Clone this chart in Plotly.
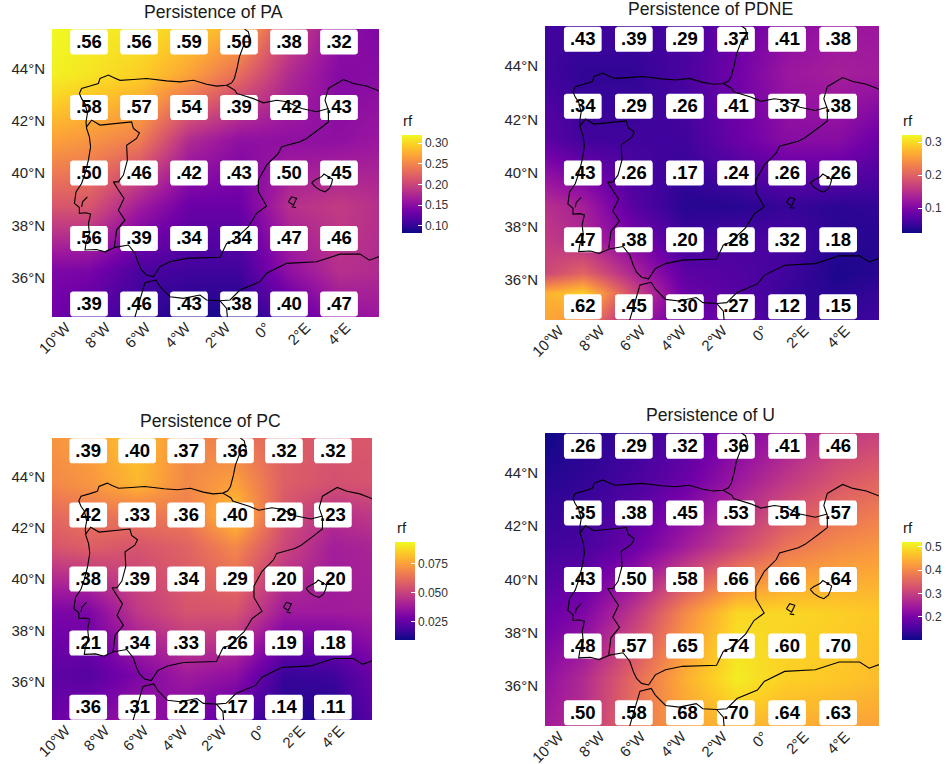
import math
import plotly.graph_objects as go

W, H = 949, 764
TITLES = ["Persistence of PA", "Persistence of PDNE", "Persistence of PC", "Persistence of U"]
LON_RANGE = [-10.6, 5.75]
LAT_RANGE = [34.5, 45.5]
LON_TICKS = [-10, -8, -6, -4, -2, 0, 2, 4]
LON_TEXT = ["10°W", "8°W", "6°W", "4°W", "2°W", "0°", "2°E", "4°E"]
LAT_TICKS = [36, 38, 40, 42, 44]
LAT_TEXT = ["36°N", "38°N", "40°N", "42°N", "44°N"]

# field sample nodes
NODE_LON = [-10.6, -8.75, -6.25, -3.75, -1.25, 1.25, 3.75, 5.75]
NODE_LAT = [34.5, 36.25, 38.75, 41.25, 43.75, 45.5]
NODE_LAT_PDNE = [34.5, 35.5, 36.25, 37.5, 38.75, 41.25, 43.75, 45.5]
NODE_LAT_PC = [34.5, 36.25, 38.75, 41.25, 42.5, 43.75, 45.5]

Z_PA = [
    [.134, .118, .101, .089, .087, .118, .153, .161],
    [.142, .139, .111, .106, .106, .153, .182, .177],
    [.213, .213, .165, .130, .130, .182, .191, .182],
    [.268, .260, .244, .177, .153, .153, .153, .161],
    [.315, .308, .296, .268, .230, .177, .146, .149],
    [.320, .315, .308, .295, .277, .201, .153, .142],
]
Z_PDNE = [
    [.263, .239, .129, .084, .084, .046, .046, .055],
    [.269, .292, .174, .084, .070, .049, .040, .049],
    [.174, .203, .138, .075, .067, .055, .034, .040],
    [.162, .144, .099, .055, .061, .061, .040, .040],
    [.150, .132, .070, .040, .040, .049, .043, .046],
    [.075, .055, .055, .055, .084, .108, .108, .084],
    [.055, .046, .046, .061, .090, .123, .132, .129],
    [.055, .055, .055, .061, .084, .108, .123, .123],
]
Z_PC = [
    [.026, .030, .037, .030, .022, .013, .012, .022],
    [.024, .022, .030, .038, .034, .016, .017, .026],
    [.030, .030, .047, .055, .055, .038, .038, .039],
    [.055, .058, .055, .059, .069, .051, .039, .041],
    [.061, .064, .064, .066, .083, .055, .044, .047],
    [.069, .072, .080, .069, .075, .058, .054, .055],
    [.072, .075, .083, .069, .066, .058, .056, .056],
]
Z_U = [
    [.247, .276, .373, .428, .457, .444, .436, .428],
    [.226, .268, .360, .444, .507, .478, .470, .457],
    [.184, .205, .289, .402, .486, .486, .478, .470],
    [.142, .150, .184, .247, .310, .373, .402, .415],
    [.121, .129, .150, .184, .239, .289, .331, .352],
    [.100, .121, .134, .163, .205, .247, .289, .302],
]
Z_ALL = [Z_PA, Z_PDNE, Z_PC, Z_U]
LATS_ALL = [NODE_LAT, NODE_LAT_PDNE, NODE_LAT_PC, NODE_LAT]
Z_RANGE = [(.082, .320), (.025, .322), (.009, .0934), (.10, .52)]
CB_TICKS = [[.10, .15, .20, .25, .30], [.1, .2, .3], [.025, .05, .075], [.2, .3, .4, .5]]
CB_TEXT = [["0.10", "0.15", "0.20", "0.25", "0.30"], ["0.1", "0.2", "0.3"],
           ["0.025", "0.050", "0.075"], ["0.2", "0.3", "0.4", "0.5"]]

# persistence labels
LABEL_LON = [-8.75, -6.25, -3.75, -1.25, 1.25, 3.75]
LABEL_LAT = [45, 42.5, 40, 37.5, 35]
LABELS_PA = [[".56", ".56", ".59", ".50", ".38", ".32"],
             [".58", ".57", ".54", ".39", ".42", ".43"],
             [".50", ".46", ".42", ".43", ".50", ".45"],
             [".56", ".39", ".34", ".34", ".47", ".46"],
             [".39", ".46", ".43", ".38", ".40", ".47"]]
LABELS_PDNE = [[".43", ".39", ".29", ".37", ".41", ".38"],
               [".34", ".29", ".26", ".41", ".37", ".38"],
               [".43", ".26", ".17", ".24", ".26", ".26"],
               [".47", ".38", ".20", ".28", ".32", ".18"],
               [".62", ".45", ".30", ".27", ".12", ".15"]]
LABELS_PC = [[".39", ".40", ".37", ".36", ".32", ".32"],
             [".42", ".33", ".36", ".40", ".29", ".23"],
             [".38", ".39", ".34", ".29", ".20", ".20"],
             [".21", ".34", ".33", ".26", ".19", ".18"],
             [".36", ".31", ".22", ".17", ".14", ".11"]]
LABELS_U = [[".26", ".29", ".32", ".36", ".41", ".46"],
            [".35", ".38", ".45", ".53", ".54", ".57"],
            [".43", ".50", ".58", ".66", ".66", ".64"],
            [".48", ".57", ".65", ".74", ".60", ".70"],
            [".50", ".58", ".68", ".70", ".64", ".63"]]
LABELS_ALL = [LABELS_PA, LABELS_PDNE, LABELS_PC, LABELS_U]

# coast and border lines, lon/lat
COAST_MAIN = [(-0.95, 45.6), (-0.95, 45.48), (-0.78, 45.39), (-0.67, 45.01), (-0.95, 45.01), (-1.12, 44.69),
              (-1.23, 44.44), (-1.33, 44.05), (-1.48, 43.61), (-1.62, 43.44), (-1.87, 43.35), (-2.37, 43.32),
              (-2.87, 43.39), (-3.53, 43.54), (-4.2, 43.48), (-4.87, 43.52), (-5.87, 43.61), (-6.53, 43.57),
              (-7.2, 43.54), (-7.53, 43.65), (-7.78, 43.74), (-8.2, 43.61), (-8.28, 43.42), (-8.7, 43.32),
              (-9.12, 43.23), (-9.23, 43.04), (-9.12, 42.84), (-8.95, 42.65), (-8.83, 42.27), (-8.9, 41.95),
              (-8.87, 41.7), (-8.73, 41.38), (-8.67, 41.0), (-8.78, 40.49), (-8.95, 39.98), (-9.12, 39.6),
              (-9.4, 39.28), (-9.48, 38.84), (-9.23, 38.68), (-9.23, 38.46), (-8.9, 38.48), (-8.67, 38.43),
              (-8.78, 38.07), (-8.73, 37.69), (-8.9, 37.31), (-8.95, 37.06), (-8.37, 37.08), (-7.95, 36.99),
              (-7.45, 37.16), (-6.78, 37.25), (-6.45, 36.93), (-6.28, 36.55), (-6.12, 36.29), (-5.87, 36.1),
              (-5.53, 36.04), (-5.2, 36.42), (-4.7, 36.61), (-3.87, 36.74), (-2.87, 36.78), (-2.2, 36.78),
              (-1.87, 37.31), (-1.53, 37.41), (-0.78, 37.95), (-0.37, 38.46), (0.13, 38.74), (-0.03, 38.96),
              (-0.28, 39.28), (-0.28, 39.73), (0.13, 40.3), (0.72, 40.75), (0.88, 41.0), (1.8, 41.19),
              (2.13, 41.32), (2.8, 41.7), (3.22, 41.95), (3.22, 42.4), (3.05, 42.78), (3.22, 43.23),
              (3.97, 43.57), (4.47, 43.42), (5.13, 43.32), (5.73, 43.14), (5.97, 43.06)]
BORDER_PYRENEES = [(-1.87, 43.35), (-1.45, 43.16), (-1.37, 43.04), (-0.53, 42.84), (-0.03, 42.68), (0.63, 42.78),
                   (1.13, 42.72), (1.88, 42.46), (2.63, 42.34), (3.22, 42.46)]
BORDER_PORTUGAL = [(-8.87, 41.76), (-8.62, 42.02), (-8.2, 41.83), (-7.37, 41.89), (-6.62, 41.95), (-6.53, 41.7),
                   (-6.23, 41.53), (-6.37, 41.32), (-6.87, 41.06), (-6.83, 40.49), (-6.95, 40.11), (-7.03, 39.92),
                   (-7.28, 39.66), (-7.53, 39.66), (-7.28, 39.35), (-7.0, 39.03), (-7.28, 38.58), (-6.95, 38.2),
                   (-7.37, 37.82), (-7.48, 37.18)]
COAST_AFRICA = [(-6.5, 34.38), (-5.95, 35.81), (-5.4, 35.91), (-5.2, 35.66), (-4.7, 35.27), (-4.03, 35.21),
                (-3.2, 35.34), (-2.87, 35.15), (-2.2, 35.12), (-1.7, 35.15), (-1.2, 35.53), (-0.2, 35.85),
                (0.13, 36.17), (1.13, 36.55), (2.63, 36.61), (3.8, 36.9), (4.8, 36.9), (5.27, 36.67), (5.97, 36.87)]
COAST_MELILLA = [(-2.2, 35.12), (-1.87, 34.83), (-1.82, 34.38)]
COAST_MALLORCA = [(2.38, 39.63), (2.55, 39.73), (2.88, 39.86), (3.0, 39.96), (3.22, 39.86), (3.43, 39.76),
                  (3.38, 39.6), (3.27, 39.41), (3.05, 39.28), (2.8, 39.35), (2.55, 39.48), (2.38, 39.63)]
COAST_IBIZA = [(1.22, 38.9), (1.38, 39.09), (1.63, 39.03), (1.47, 38.77), (1.22, 38.9)]
COAST_FORMENTERA = [(1.38, 38.71), (1.6, 38.68)]
COAST_TAGUS = [(-9.12, 38.71), (-9.07, 38.9), (-8.83, 39.09)]
LINES = [COAST_MAIN, BORDER_PYRENEES, BORDER_PORTUGAL, COAST_AFRICA, COAST_MELILLA,
         COAST_MALLORCA, COAST_IBIZA, COAST_FORMENTERA, COAST_TAGUS]

# layout in pixels: plot (x0, x1, y0, y1), colour bar (x0, y0, y1), title centre (x, y), legend title (x, y)
PLOTS = [(52, 379, 29, 317), (545, 879, 26, 320), (52, 372, 438, 720), (545, 879, 433, 726)]
BARS = [(402, 135, 233), (902, 135, 233), (395, 542, 640), (902, 542, 640)]
TITLE_POS = [(213.5, 12), (710, 9), (210.5, 421), (710, 415)]
RF_POS = [(402, 120.5), (902, 120.5), (395.5, 527.7), (902, 527.7)]
BOX_W, BOX_H, BOX_R = 37.7, 25, 2.5

fig = go.Figure()
ann, shapes = [], []


def flat(line_sets, k):
    out = []
    for seg in line_sets:
        out += [p[k] for p in seg] + [None]
    return out


hw, hh, r = BOX_W / 2, BOX_H / 2, BOX_R
OUTLINE = []
for cx, cy, a0 in [(hw - r, -hh + r, -90), (hw - r, hh - r, 0), (-hw + r, hh - r, 90), (-hw + r, -hh + r, 180)]:
    for s in range(6):
        a = math.radians(a0 + 18 * s)
        OUTLINE.append((cx + r * math.cos(a), cy + r * math.sin(a)))
OUTLINE.append(OUTLINE[0])

for i in range(4):
    n = "" if i == 0 else str(i + 1)
    xa, ya = "x" + n, "y" + n
    px0, px1, py0, py1 = PLOTS[i]
    bx, by0, by1 = BARS[i]
    zmin, zmax = Z_RANGE[i]
    fig.add_trace(go.Heatmap(
        x=NODE_LON, y=LATS_ALL[i], z=Z_ALL[i], zmin=zmin, zmax=zmax, colorscale="Plasma", zsmooth="best",
        xaxis=xa, yaxis=ya, hoverinfo="skip",
        colorbar=dict(x=bx / W, xanchor="left", y=1 - (by0 + by1) / 2 / H, yanchor="middle",
                      len=(by1 - by0) / H, lenmode="fraction", thickness=20, thicknessmode="pixels",
                      xpad=0, ypad=0, outlinewidth=0, borderwidth=0,
                      tickmode="array", tickvals=CB_TICKS[i], ticktext=CB_TEXT[i],
                      ticks="inside", ticklen=4, tickcolor="white", tickwidth=1,
                      tickfont=dict(size=12, color="#333333"))))
    dx = (LON_RANGE[1] - LON_RANGE[0]) / (px1 - px0)
    dy = (LAT_RANGE[1] - LAT_RANGE[0]) / (py1 - py0)
    bxs, bys, tx, ty, tt = [], [], [], [], []
    for rr, lat in enumerate(LABEL_LAT):
        for cc, lon in enumerate(LABEL_LON):
            bxs += [lon + c[0] * dx for c in OUTLINE] + [None]
            bys += [lat + c[1] * dy for c in OUTLINE] + [None]
            tx.append(lon)
            ty.append(lat - 1.2 * dy)
            tt.append(LABELS_ALL[i][rr][cc])
    fig.add_trace(go.Scatter(x=bxs, y=bys, mode="lines", fill="toself", fillcolor="white",
                             line=dict(width=0, color="white"), xaxis=xa, yaxis=ya, hoverinfo="skip",
                             showlegend=False))
    fig.add_trace(go.Scatter(x=tx, y=ty, text=tt, mode="text", textposition="middle center",
                             textfont=dict(size=18.5, color="black", family="Liberation Sans", weight="bold"),
                             xaxis=xa, yaxis=ya, hoverinfo="skip", showlegend=False))
    fig.add_trace(go.Scatter(x=flat(LINES, 0), y=flat(LINES, 1), mode="lines",
                             line=dict(color="black", width=1.1), xaxis=xa, yaxis=ya, hoverinfo="skip",
                             showlegend=False))
    axis_common = dict(showgrid=False, zeroline=False, showline=False, ticks="", tickmode="array",
                       automargin=False, tickfont=dict(size=15, color="#262626"))
    fig.update_layout(**{
        ("xaxis" + n): dict(domain=[px0 / W, px1 / W], range=LON_RANGE, anchor=ya, tickvals=LON_TICKS,
                            ticktext=LON_TEXT, tickangle=-45, ticklabelstandoff=-2, ticklabelshift=2, **axis_common),
        ("yaxis" + n): dict(domain=[1 - py1 / H, 1 - py0 / H], range=LAT_RANGE, anchor=xa, tickvals=LAT_TICKS,
                            ticktext=LAT_TEXT, ticklabelstandoff=6, **axis_common),
    })
    ann.append(dict(text=TITLES[i], x=TITLE_POS[i][0] / W, y=1 - TITLE_POS[i][1] / H, xref="paper", yref="paper",
                    xanchor="center", yanchor="middle", showarrow=False, font=dict(size=17.6, color="#1a1a1a")))
    ann.append(dict(text="rf", x=RF_POS[i][0] / W, y=1 - RF_POS[i][1] / H, xref="paper", yref="paper",
                    xanchor="left", yanchor="middle", showarrow=False, xshift=-1,
                    font=dict(size=15, color="#1a1a1a")))
    for v in CB_TICKS[i]:
        py = by0 + (zmax - v) / (zmax - zmin) * (by1 - by0)
        shapes.append(dict(type="line", xref="paper", yref="paper", x0=bx / W, x1=(bx + 4) / W,
                           y0=1 - py / H, y1=1 - py / H, line=dict(color="white", width=1)))

fig.update_layout(width=W, height=H, margin=dict(l=0, r=0, t=0, b=0, autoexpand=False),
                  paper_bgcolor="white", plot_bgcolor="white",
                  font=dict(family="Liberation Sans"), annotations=ann, shapes=shapes, showlegend=False)
fig.write_html("out.html", config={"displayModeBar": False},
               post_script="document.body.style.margin='0';document.body.style.overflow='hidden';")
